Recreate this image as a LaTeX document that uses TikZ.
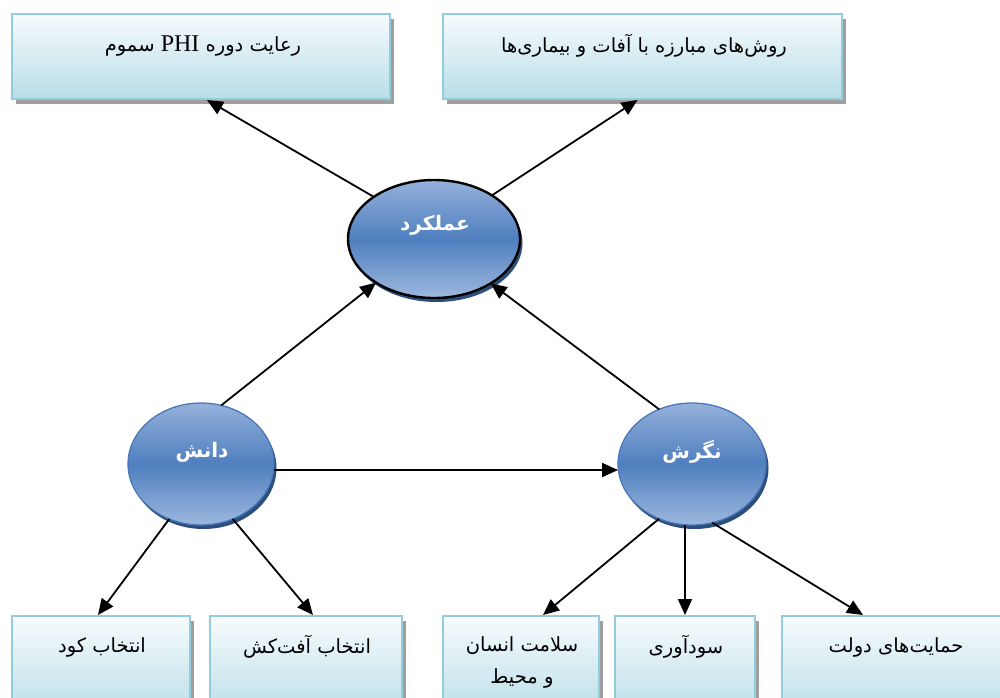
\documentclass[tikz,border=0pt]{standalone}
\usepackage{fontspec}
\usetikzlibrary{arrows.meta,shapes.geometric,shadows,calc}
\TeXXeTstate=1
\newfontfamily\fa[Script=Arabic]{DejaVu Sans}
\newfontfamily\lat{Liberation Serif}
\definecolor{boxborder}{HTML}{93CDDD}
\definecolor{boxtop}{HTML}{F7FBFC}
\definecolor{boxbot}{HTML}{B7DDE8}
\definecolor{elltop}{HTML}{95B1DB}
\definecolor{ellmid}{HTML}{4F7FBF}
\definecolor{ellbot}{HTML}{9DB8DE}
\definecolor{ellshadow}{HTML}{2C4E7C}
\definecolor{ellborder}{HTML}{4A78B8}
\tikzset{
  infobox/.style={rectangle, draw=boxborder, line width=2pt, inner sep=0pt,
    top color=boxtop, bottom color=boxbot,
    drop shadow={shadow xshift=4pt, shadow yshift=-5pt, fill=gray!75, opacity=1}},
  blob/.style={ellipse, draw=ellborder, line width=1.3pt, inner sep=0pt, outer sep=0pt,
    top color=elltop, bottom color=ellbot, middle color=ellmid,
    drop shadow={shadow xshift=2.5pt, shadow yshift=-4pt, fill=ellshadow, opacity=1}},
  boxtext/.style={font=\fa\fontsize{19.5}{32}\selectfont, text=black, align=center, inner sep=0pt},
  blobtext/.style={font=\fa\bfseries\fontsize{20}{24}\selectfont, text=white, inner sep=0pt},
  link/.style={line width=1.8pt, -{Triangle[length=16pt,width=14pt]}}
}
\begin{document}
\begin{tikzpicture}[x=1pt,y=-1pt]
\useasboundingbox (0,0) rectangle (1000,697);
\clip (0,0) rectangle (1000,697);
% top boxes
\node[infobox, minimum width=378pt, minimum height=85pt] (phi) at (201,56.5) {};
\node[infobox, minimum width=399pt, minimum height=85pt] (rav) at (642.5,56.5) {};
\node[boxtext] (tphi) at (203,46) {\beginR رعایت دوره \beginL{\lat\fontsize{24}{28}\selectfont PHI}\endL{} سموم\endR};
\node[boxtext] (trav) at (644,46) {\beginR روش^^^^200cهای مبارزه با آفات و بیماری^^^^200cها\endR};
% bottom boxes
\node[infobox, minimum width=178pt, minimum height=104pt] (kud) at (101,668) {};
\node[infobox, minimum width=192pt, minimum height=104pt] (afat) at (306,668) {};
\node[infobox, minimum width=156pt, minimum height=104pt] (sal) at (521,668) {};
\node[infobox, minimum width=140pt, minimum height=104pt] (sud) at (685,668) {};
\node[infobox, minimum width=238pt, minimum height=104pt] (hem) at (901,668) {};
\node[boxtext] (tkud) at (102,647) {\beginR انتخاب کود\endR};
\node[boxtext] (tafat) at (307,647) {\beginR انتخاب آفت^^^^200cکش\endR};
\node[boxtext] (tsal) at (522,662) {\beginR سلامت انسان\endR\\\beginR و محیط\endR};
\node[boxtext] (tsud) at (686,647) {\beginR سودآوری\endR};
\node[boxtext] (themm) at (896,647) {\beginR حمایت^^^^200cهای دولت\endR};
% ellipses
\node[blob, draw=black, line width=2.4pt, minimum width=172pt, minimum height=118pt] (amal) at (434,239) {};
\node[blob, minimum width=146pt, minimum height=122pt] (danesh) at (201,464) {};
\node[blob, minimum width=148pt, minimum height=122pt] (negesh) at (692,464) {};
\node[blobtext] (tamal) at (435,225) {\beginR عملکرد\endR};
\node[blobtext] (tdanesh) at (202,452) {\beginR دانش\endR};
\node[blobtext] (tnegesh) at (692,452) {\beginR نگرش\endR};
% connectors
\draw[link] (amal.145) -- ([xshift=6pt]phi.south);
\draw[link] (amal.37) -- ([xshift=-5pt]rav.south);
\draw[link] (danesh.71) -- (amal.217);
\draw[link] (negesh.121) -- (amal.322);
\draw[link] ([yshift=-6pt]danesh.east) -- ([yshift=-6pt]negesh.west);
\draw[link] (danesh.240) -- ([xshift=-3pt]kud.north);
\draw[link] (danesh.300) -- ([xshift=7pt]afat.north);
\draw[link] (negesh.239) -- ([xshift=22pt]sal.north);
\draw[link] (sud.north |- negesh.south) -- (sud.north);
\draw[link] (negesh.289) -- ([xshift=82pt]hem.north west);
\end{tikzpicture}
\end{document}
